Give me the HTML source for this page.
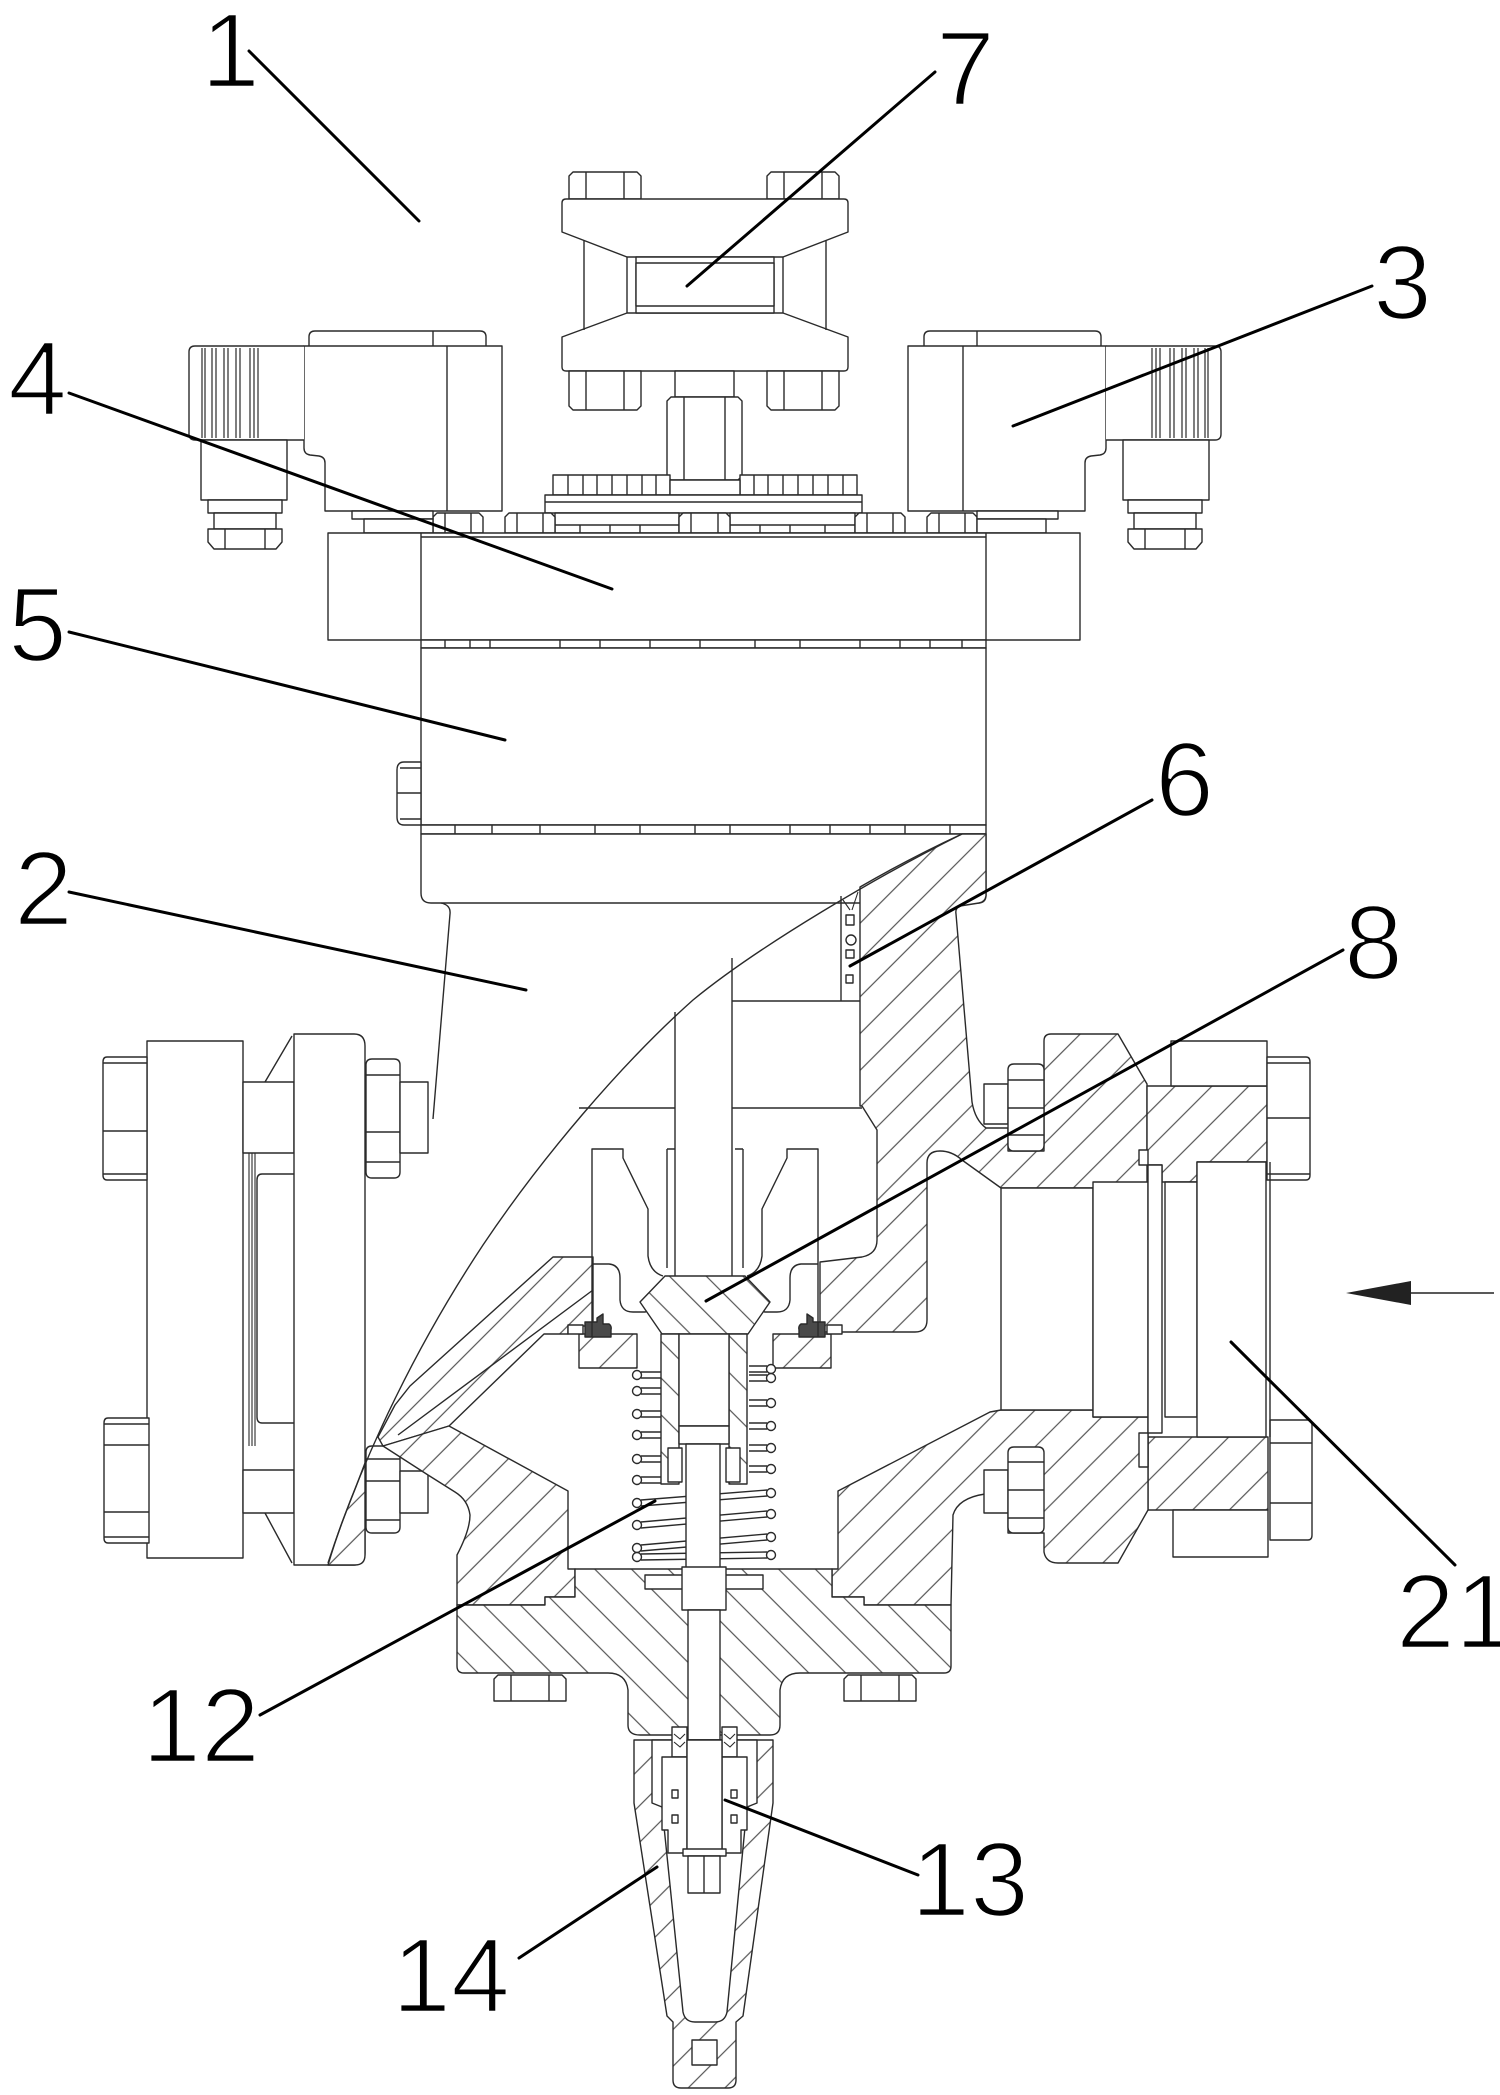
<!DOCTYPE html>
<html><head><meta charset="utf-8"><title>valve</title>
<style>html,body{margin:0;padding:0;background:#fff}svg{display:block}</style>
</head><body>
<svg xmlns="http://www.w3.org/2000/svg" xmlns:xlink="http://www.w3.org/1999/xlink" width="1500" height="2095" viewBox="0 0 1500 2095">
<defs>
<pattern id="hr" patternUnits="userSpaceOnUse" width="26" height="26" patternTransform="rotate(45)"><rect width="26" height="26" fill="#fff"/><line x1="13" y1="-2" x2="13" y2="28" stroke="#555" stroke-width="1.2"/></pattern>
<pattern id="hl" patternUnits="userSpaceOnUse" width="26" height="26" patternTransform="rotate(-45)"><rect width="26" height="26" fill="#fff"/><line x1="13" y1="-2" x2="13" y2="28" stroke="#555" stroke-width="1.2"/></pattern>
</defs>
<rect width="1500" height="2095" fill="#fff"/>

<g fill="#fff" stroke="#2a2a2a" stroke-width="1.4" stroke-linejoin="round">

<!-- ===== TOP ACTUATOR (7) ===== -->
<path d="M573,172 H637 L641,176 V199 H569 V176 Z"/><path d="M586,172 V199 M624,172 V199" fill="none"/>
<path d="M771,172 H835 L839,176 V199 H767 V176 Z"/><path d="M784,172 V199 M822,172 V199" fill="none"/>
<path d="M566,199 H844 Q848,199 848,203 V232 L783,257 H627 L562,232 V203 Q562,199 566,199 Z"/>
<path d="M627,313 H783 L848,337 V367 Q848,371 844,371 H566 Q562,371 562,367 V337 Z"/>
<path d="M584,240 V330 M826,240 V330 M627,257 V313 M783,257 V313" fill="none"/>
<rect x="636" y="257" width="138" height="56"/>
<rect x="636" y="263" width="138" height="43"/>
<rect x="675" y="371" width="59" height="26"/>
<path d="M569,371 H641 V406 L637,410 H573 L569,406 Z"/><path d="M586,371 V410 M624,371 V410" fill="none"/>
<path d="M767,371 H839 V406 L835,410 H771 L767,406 Z"/><path d="M784,371 V410 M822,371 V410" fill="none"/>
<path d="M671,397 H738 L742,401 V476 L738,480 H671 L667,476 V401 Z"/><path d="M684,397 V480 M725,397 V480" fill="none"/>
<rect x="553" y="475" width="117" height="20"/>
<path d="M568,475 V495 M583,475 V495 M597,475 V495 M612,475 V495 M627,475 V495 M642,475 V495 M656,475 V495" fill="none"/>
<rect x="740" y="475" width="117" height="20"/>
<path d="M754,475 V495 M768,475 V495 M783,475 V495 M798,475 V495 M813,475 V495 M828,475 V495 M843,475 V495" fill="none"/>
<rect x="670" y="480" width="70" height="15"/>
<rect x="545" y="495" width="317" height="18"/>
<path d="M545,502 H862" fill="none"/>
<rect x="555" y="513" width="124" height="20"/><rect x="730" y="513" width="125" height="20"/>
<path d="M580,525 V533 M610,525 V533 M640,525 V533 M760,525 V533 M790,525 V533 M825,525 V533 M555,525 H679 M730,525 H855" fill="none"/>
<!-- flange-top bolts -->
<path d="M437,513 H479 L483,517 V533 H433 V517 Z"/><path d="M445,513 V533 M471,513 V533" fill="none"/>
<path d="M509,513 H551 L555,517 V533 H505 V517 Z"/><path d="M517,513 V533 M543,513 V533" fill="none"/>
<path d="M683,513 H726 L730,517 V533 H679 V517 Z"/><path d="M691,513 V533 M718,513 V533" fill="none"/>
<path d="M859,513 H901 L905,517 V533 H855 V517 Z"/><path d="M867,513 V533 M893,513 V533" fill="none"/>
<path d="M931,513 H973 L977,517 V533 H927 V517 Z"/><path d="M939,513 V533 M965,513 V533" fill="none"/>

<!-- ===== SOLENOIDS (3) ===== -->
<g id="sol">
 <path d="M309,346 V337 Q309,331 315,331 H480 Q486,331 486,337 V346"/>
 <path d="M433,331 V346" fill="none"/>
 <path d="M304,346 H502 V511 H325 V463 Q325,457 319,456 L310,455 Q304,454 304,448 Z"/>
 <path d="M447,346 V511" fill="none"/>
 <path d="M304,346 H195 Q189,346 189,352 V434 Q189,440 195,440 H304"/>
 <path d="M202,348 V438 M205,348 V438 M212,348 V438 M216,348 V438 M224,348 V438 M228,348 V438 M236,348 V438 M240,348 V438 M250,348 V438 M254,348 V438 M258,348 V438" fill="none" stroke-width="1.2"/>
 <rect x="201" y="440" width="86" height="60"/>
 <rect x="208" y="500" width="74" height="13"/>
 <rect x="214" y="513" width="62" height="16"/>
 <path d="M208,529 H282 V542 L276,549 H214 L208,542 Z"/>
 <path d="M225,529 V549 M265,529 V549" fill="none"/>
 <rect x="352" y="511" width="81" height="8"/>
 <rect x="364" y="519" width="69" height="14"/>
</g>
<use xlink:href="#sol" href="#sol" transform="matrix(-1 0 0 1 1410 0)"/>

<!-- ===== FLANGE 4 / BODY 5 ===== -->
<rect x="328" y="533" width="752" height="107"/>
<path d="M421,533 V640 M986,533 V640 M421,537 H986" fill="none"/>
<rect x="421" y="640" width="565" height="8"/>
<path d="M445,640 V648 M470,640 V648 M490,640 V648 M560,640 V648 M600,640 V648 M650,640 V648 M700,640 V648 M755,640 V648 M800,640 V648 M860,640 V648 M900,640 V648 M930,640 V648 M962,640 V648" fill="none"/>
<rect x="421" y="648" width="565" height="177"/>
<path d="M421,762 H404 Q397,762 397,770 V817 Q397,825 404,825 H421 Z"/>
<path d="M397,793 H421 M400,768 H421 M400,819 H421" fill="none"/>
<rect x="421" y="825" width="565" height="9"/>
<path d="M455,825 V834 M492,825 V834 M540,825 V834 M595,825 V834 M640,825 V834 M695,825 V834 M730,825 V834 M790,825 V834 M830,825 V834 M870,825 V834 M905,825 V834 M950,825 V834" fill="none"/>
<path d="M421,834 H986 V895 Q986,903 978,903 H431 Q421,903 421,893 Z"/>
<path d="M441,903 Q451,905 450,914 L433,1119" fill="none"/>

<!-- ===== LEFT PIPE FLANGE ===== -->
<rect x="147" y="1041" width="96" height="517"/>
<path d="M249,1153 V1446 M252,1153 V1446 M255,1153 V1446" fill="none" stroke-width="1.1"/>
<path d="M294,1174 H262 Q257,1174 257,1180 V1417 Q257,1423 262,1423 H294"/>
<rect x="243" y="1082" width="51" height="71"/>
<rect x="243" y="1470" width="51" height="43"/>
<path d="M294,1034 H354 Q365,1034 365,1046 V1553 Q365,1565 354,1565 H294 Z"/>
<path d="M265,1082 L292,1036 M265,1513 L292,1563" fill="none"/>
<path d="M107,1057 H147 V1180 H107 Q103,1180 103,1175 V1062 Q103,1057 107,1057 Z"/>
<path d="M103,1063 H147 M103,1131 H147 M103,1174 H147" fill="none"/>
<path d="M108,1418 H149 V1543 H108 Q104,1543 104,1538 V1423 Q104,1418 108,1418 Z"/>
<path d="M104,1424 H149 M104,1445 H149 M104,1512 H149 M104,1537 H149" fill="none"/>
<path d="M366,1065 Q366,1059 372,1059 H394 Q400,1059 400,1065 V1172 Q400,1178 394,1178 H372 Q366,1178 366,1172 Z"/>
<path d="M366,1075 H400 M366,1132 H400 M366,1162 H400" fill="none"/>
<path d="M366,1452 Q366,1446 372,1446 H394 Q400,1446 400,1452 V1527 Q400,1533 394,1533 H372 Q366,1533 366,1527 Z"/>
<path d="M366,1459 H400 M366,1481 H400 M366,1520 H400" fill="none"/>
<rect x="400" y="1082" width="28" height="71"/>
<rect x="400" y="1471" width="28" height="42"/>

<!-- ===== SECTION: HATCHED BODY ===== -->
<path fill="url(#hr)" d="M962,834 L986,834 L986,896 Q985,902 979,903 L960,906 Q955,908 956,914 L972,1102 Q975,1120 986,1128 L1008,1128 L1008,1151 L1044,1151 L1044,1041 Q1044,1034 1051,1034 L1118,1034 L1147,1084 L1147,1188 L1001,1188 L962,1160 Q952,1151 940,1151 Q927,1151 927,1163 L927,1320 Q927,1332 915,1332 L820,1332 L820,1262 L862,1257 Q877,1254 877,1240 L877,1130 L862,1106 L860,1106 L860,887 Q912,857 962,834 Z"/>
<path fill="url(#hr)" d="M1147,1086 H1267 V1162 H1197 V1182 H1162 V1165 H1147 Z"/>
<rect x="1171" y="1041" width="96" height="45"/>
<path fill="url(#hr)" d="M1148,1437 H1268 V1510 H1148 Z"/>
<rect x="1173" y="1510" width="95" height="47"/>
<path fill="url(#hr)" d="M990,1412 L1001,1410 L1093,1410 L1093,1417 L1148,1417 L1148,1510 L1118,1563 L1058,1563 Q1046,1563 1044,1552 L1044,1533 L1008,1533 L1008,1508 Q998,1494 985,1494 Q958,1498 953,1515 L951,1605 L864,1605 L864,1597 L832,1597 L832,1569 L838,1569 L838,1491 Z"/>
<path fill="url(#hr)" d="M553,1257 L593,1257 L593,1326 L568,1326 L568,1334 L544,1334 L449,1426 L383,1446 L378,1437 L395,1405 L410,1386 Z"/>
<path d="M593,1290 L398,1435" fill="none"/>
<path fill="url(#hr)" d="M383,1446 L449,1426 L568,1491 L568,1569 L575,1569 L575,1597 L545,1597 L545,1605 L457,1605 L457,1555 Q470,1530 470,1515 Q468,1500 455,1492 L428,1475 Z"/>
<path fill="url(#hr)" d="M365,1463 L365,1555 Q365,1565 355,1565 L328,1565 Q337,1535 346,1512 Q356,1487 365,1463 Z"/>

<!-- right nuts / studs -->
<rect x="984" y="1084" width="24" height="40"/>
<path d="M1008,1070 Q1008,1064 1014,1064 H1038 Q1044,1064 1044,1070 V1145 Q1044,1151 1038,1151 H1014 Q1008,1151 1008,1145 Z"/>
<path d="M1008,1080 H1044 M1008,1108 H1044 M1008,1135 H1044" fill="none"/>
<rect x="984" y="1470" width="24" height="43"/>
<path d="M1008,1453 Q1008,1447 1014,1447 H1038 Q1044,1447 1044,1453 V1527 Q1044,1533 1038,1533 H1014 Q1008,1533 1008,1527 Z"/>
<path d="M1008,1462 H1044 M1008,1490 H1044 M1008,1518 H1044" fill="none"/>
<!-- right bolt heads -->
<path d="M1267,1057 H1306 Q1310,1057 1310,1062 V1175 Q1310,1180 1306,1180 H1267 Z"/>
<path d="M1267,1063 H1310 M1267,1118 H1310 M1267,1174 H1310" fill="none"/>
<path d="M1270,1420 H1308 Q1312,1420 1312,1425 V1535 Q1312,1540 1308,1540 H1270 Z"/>
<path d="M1270,1443 H1312 M1270,1503 H1312" fill="none"/>
<!-- bore -->
<rect x="1001" y="1188" width="92" height="222"/>
<rect x="1093" y="1182" width="55" height="235"/>
<rect x="1139" y="1150" width="9" height="15"/>
<rect x="1139" y="1433" width="9" height="34"/>
<rect x="1148" y="1165" width="14" height="268"/>
<rect x="1165" y="1182" width="32" height="235"/>
<rect x="1197" y="1162" width="69" height="275"/>
<path d="M1270,1162 V1437" fill="none"/>

<!-- seat rings, seals -->
<path fill="url(#hr)" d="M579,1334 H637 V1368 H579 Z"/>
<path fill="url(#hr)" d="M773,1334 H831 V1368 H773 Z"/>
<rect x="568" y="1325" width="15" height="9"/>
<rect x="827" y="1325" width="15" height="9"/>
<path fill="#4a4a4a" d="M585,1322 H597 V1318 L603,1314 V1324 H609 Q612,1326 611,1330 L611,1337 H585 Z"/>
<path fill="#4a4a4a" d="M825,1322 H813 V1318 L807,1314 V1324 H801 Q798,1326 799,1330 L799,1337 H825 Z"/>

<!-- neck interior / packing (6) -->
<path d="M841,896 V1001 M732,1001 H860 M579,1108 H675 M732,1108 H862" fill="none"/>
<path d="M675,1012 V1276 M732,958 V1276" fill="none"/>
<rect x="846" y="915" width="8" height="10"/>
<circle cx="851" cy="940" r="5"/>
<rect x="846" y="950" width="8" height="8"/>
<rect x="846" y="975" width="7" height="8"/>
<path d="M843,900 L850,910 M858,892 L852,910" fill="none" stroke-width="1.1"/>

<!-- cage -->
<g id="cage" fill="none">
 <path d="M592,1337 V1149 H623 V1158 L648,1209 V1256 Q650,1272 663,1276"/>
 <path d="M592,1264 H609 Q620,1265 620,1278 V1300 Q621,1312 633,1312 H645 Q652,1311 654,1298 L660,1284"/>
 <path d="M667,1149 V1268 M667,1149 H675"/>
</g>
<use xlink:href="#cage" href="#cage" transform="matrix(-1 0 0 1 1410 0)"/>

<!-- spring (12) -->
<g fill="#fff">
 <path d="M641,1372 H661 M641,1378 H661 M641,1388 H661 M641,1394 H661 M641,1411 H661 M641,1417 H661 M641,1432 H661 M641,1438 H661 M641,1456 H661 M641,1462 H661 M641,1477 H661 M641,1483 H661" fill="none"/>
 <circle cx="637" cy="1375" r="4.5"/><circle cx="637" cy="1391" r="4.5"/><circle cx="637" cy="1414" r="4.5"/><circle cx="637" cy="1435" r="4.5"/><circle cx="637" cy="1459" r="4.5"/><circle cx="637" cy="1480" r="4.5"/>
 <path d="M749,1366 H767 M749,1372 H767 M749,1375 H767 M749,1381 H767 M749,1400 H767 M749,1406 H767 M749,1423 H767 M749,1429 H767 M749,1445 H767 M749,1451 H767 M749,1466 H767 M749,1472 H767" fill="none"/>
 <circle cx="771" cy="1369" r="4.5"/><circle cx="771" cy="1378" r="4.5"/><circle cx="771" cy="1403" r="4.5"/><circle cx="771" cy="1426" r="4.5"/><circle cx="771" cy="1448" r="4.5"/><circle cx="771" cy="1469" r="4.5"/>
 <path d="M641,1500 L767,1490 M641,1506 L767,1496 M641,1522 L767,1511 M641,1528 L767,1517 M641,1545 L767,1534 M641,1551 L767,1540 M641,1554 L767,1552 M641,1560 L767,1558" fill="none"/>
 <circle cx="637" cy="1503" r="4.5"/><circle cx="637" cy="1525" r="4.5"/><circle cx="637" cy="1548" r="4.5"/><circle cx="637" cy="1557" r="4.5"/>
 <circle cx="771" cy="1493" r="4.5"/><circle cx="771" cy="1514" r="4.5"/><circle cx="771" cy="1537" r="4.5"/><circle cx="771" cy="1555" r="4.5"/>
</g>

<!-- plug (8) + skirt + stem -->
<path fill="url(#hl)" d="M665,1276 H745 L770,1302 L748,1334 H662 L640,1302 Z"/>
<path fill="url(#hl)" d="M661,1334 H679 V1484 H661 Z"/>
<path fill="url(#hl)" d="M729,1334 H747 V1484 H729 Z"/>
<rect x="679" y="1334" width="50" height="92"/>
<rect x="679" y="1426" width="50" height="18"/>
<rect x="668" y="1448" width="14" height="34"/>
<rect x="726" y="1448" width="14" height="34"/>
<rect x="686" y="1444" width="34" height="125"/>

<!-- cover -->
<path fill="url(#hl)" d="M575,1569 H832 V1597 H864 V1605 H951 V1666 Q951,1673 944,1673 H800 Q782,1673 780,1690 V1725 Q780,1735 770,1735 H640 Q628,1735 628,1725 V1690 Q626,1673 608,1673 H464 Q457,1673 457,1666 V1605 H545 V1597 H575 Z"/>
<rect x="645" y="1575" width="118" height="14"/>
<rect x="682" y="1567" width="44" height="43"/>
<rect x="688" y="1610" width="32" height="130"/>
<path d="M498,1675 H562 L566,1679 V1701 H494 V1679 Z"/><path d="M511,1675 V1701 M549,1675 V1701" fill="none"/>
<path d="M848,1675 H912 L916,1679 V1701 H844 V1679 Z"/><path d="M861,1675 V1701 M899,1675 V1701" fill="none"/>

<!-- bonnet 14 -->
<path fill="url(#hr)" d="M634,1740 H773 V1803 L743,2016 L736,2022 V2080 Q736,2088 728,2088 H681 Q673,2088 673,2080 V2022 L667,2016 L634,1803 Z"/>
<path d="M652,1740 H757 V1803 L747,1807 L727,2012 Q725,2022 715,2022 H695 Q685,2022 683,2012 L662,1807 L652,1803 Z"/>
<rect x="692" y="2040" width="25" height="25"/>
<rect x="672" y="1727" width="15" height="30"/>
<rect x="722" y="1727" width="15" height="30"/>
<path d="M674,1734 L680,1739 L685,1734 M674,1742 L680,1747 L685,1742 M724,1734 L730,1739 L735,1734 M724,1742 L730,1747 L735,1742" fill="none" stroke-width="1.1"/>
<path d="M662,1757 H687 V1853 H668 V1830 H662 Z"/>
<path d="M747,1757 H722 V1853 H741 V1830 H747 Z"/>
<rect x="672" y="1790" width="6" height="8"/><rect x="672" y="1815" width="6" height="8"/>
<rect x="731" y="1790" width="6" height="8"/><rect x="731" y="1815" width="6" height="8"/>
<rect x="687" y="1740" width="35" height="110"/>
<rect x="683" y="1849" width="43" height="7"/>
<rect x="688" y="1856" width="32" height="37"/>
<path d="M704,1856 V1893" fill="none"/>

<!-- section boundary arc -->
<path d="M962,834 C880,875 760,945 693,1000 C620,1065 540,1160 483,1245 C420,1340 365,1450 328,1563" fill="none"/>
</g>

<!-- ===== LEADERS ===== -->
<g stroke="#000" stroke-width="3" fill="none" stroke-linecap="round">
 <path d="M249,51 L419,221"/>
 <path d="M935,72 L687,286"/>
 <path d="M1372,286 L1013,426"/>
 <path d="M69,393 L612,589"/>
 <path d="M69,632 L505,740"/>
 <path d="M69,892 L526,990"/>
 <path d="M1152,800 L850,966"/>
 <path d="M1343,950 L706,1301"/>
 <path d="M1455,1565 L1231,1342"/>
 <path d="M260,1715 L655,1501"/>
 <path d="M918,1875 L725,1800"/>
 <path d="M519,1958 L657,1867"/>
</g>
<!-- flow arrow -->
<path d="M1494,1293 H1408" stroke="#222" stroke-width="1.6" fill="none"/>
<path d="M1346,1293 L1411,1281 L1411,1305 Z" fill="#222"/>

<!-- ===== LABELS ===== -->
<g font-family="'Liberation Sans', Arial, sans-serif" font-size="106" fill="#000" stroke="#fff" stroke-width="2.6">
 <text x="201" y="87">1</text>
 <text x="936" y="105">7</text>
 <text x="1373" y="319">3</text>
 <text x="8" y="415">4</text>
 <text x="8" y="661">5</text>
 <text x="14" y="925">2</text>
 <text x="1155" y="816">6</text>
 <text x="1344" y="979">8</text>
 <text x="1396" y="1648">21</text>
 <text x="142" y="1762">12</text>
 <text x="911" y="1916">13</text>
 <text x="392" y="2012">14</text>
</g>
</svg>
</body></html>
